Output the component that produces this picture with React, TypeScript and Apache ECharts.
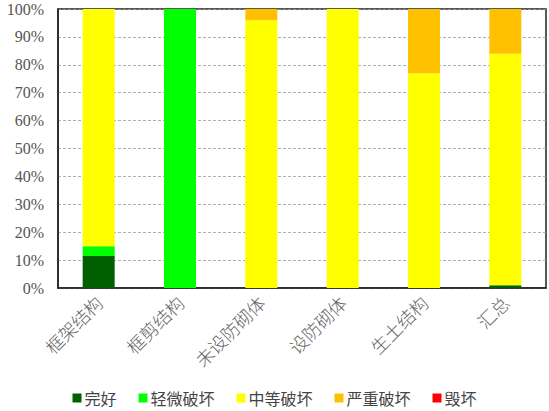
import * as echarts from "echarts"
import { useEffect, useRef } from "react"

const categories = ["框架结构", "框剪结构", "未设防砌体", "设防砌体", "生土结构", "汇总"]
const seriesNames = ["完好", "轻微破坏", "中等破坏", "严重破坏", "毁坏"]
const intact = [11.5, 0, 0, 0, 0, 1]
const slight = [3.5, 100, 0, 0, 0, 0]
const moderate = [85, 0, 96, 100, 77, 83]
const severe = [0, 0, 4, 0, 23, 16]
const destroyed = [0, 0, 0, 0, 0, 0]
const yTicks = [0, 10, 20, 30, 40, 50, 60, 70, 80, 90, 100]

const colors = ["#006000", "#00ff00", "#ffff00", "#ffc000", "#ff0000"]
const values = [intact, slight, moderate, severe, destroyed]

const cjk = '"Noto Sans CJK SC", sans-serif'
const serif = '"Liberation Serif", "Times New Roman", serif'

export default function App() {
  const ref = useRef<HTMLDivElement>(null)

  useEffect(() => {
    if (!ref.current) return
    const chart = echarts.init(ref.current, null, { renderer: "svg" })

    chart.setOption({
      animation: false,
      grid: {
        left: 58,
        top: 9,
        right: 3,
        bottom: 123,
        show: true,
        borderColor: "#222",
        borderWidth: 1.5,
        backgroundColor: "#fff",
      },
      legend: {
        data: seriesNames,
        bottom: 0,
        left: "center",
        icon: "rect",
        itemWidth: 9,
        itemHeight: 9,
        itemGap: 22,
        textStyle: { fontFamily: cjk, fontSize: 16, color: "#444", padding: [0, 0, 0, -2] },
      },
      xAxis: {
        type: "category",
        data: categories,
        axisLine: { show: true, lineStyle: { color: "#222", width: 1.5 } },
        axisTick: { show: false },
        axisLabel: {
          rotate: 45,
          margin: 11,
          fontFamily: cjk,
          fontWeight: 300,
          fontSize: 18,
          color: "#666",
        },
      },
      yAxis: {
        type: "value",
        min: 0,
        max: 100,
        interval: 10,
        axisLine: { show: true, lineStyle: { color: "#222", width: 1.5 } },
        axisTick: { show: false },
        axisLabel: {
          margin: 14,
          fontFamily: serif,
          fontSize: 16,
          color: "#555",
          formatter: (v: number) => (yTicks.includes(v) ? `${v}%` : ""),
        },
        splitLine: { lineStyle: { color: "#999", type: [3, 2], width: 0.8 } },
      },
      series: seriesNames.map((name, i) => ({
        name,
        type: "bar",
        stack: "total",
        barWidth: 32,
        data: values[i],
        itemStyle: { color: colors[i] },
      })),
    })

    return () => chart.dispose()
  }, [])

  return <div ref={ref} style={{ position: "absolute", left: 0, top: 0, width: 549, height: 411 }} />
}
